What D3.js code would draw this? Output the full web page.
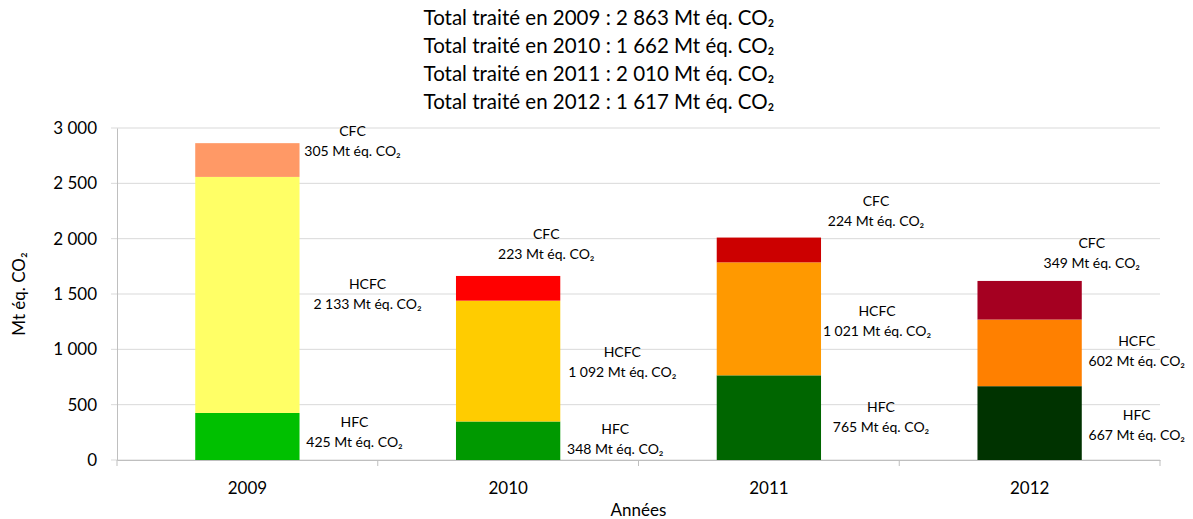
<!DOCTYPE html>
<html>
<head>
<meta charset="utf-8">
<script src="https://cdn.jsdelivr.net/npm/d3@7"></script>
<style>
  body { margin: 0; background: #fff; }
  text { font-family: Lato, "Open Sans", sans-serif; fill: #000; }
</style>
</head>
<body>
<div id="graph"></div>
<script>
const years = ['2009', '2010', '2011', '2012'];
const series = ['HFC', 'HCFC', 'CFC'];
const hfc = [425, 348, 765, 667];
const hcfc = [2133, 1092, 1021, 602];
const cfc = [305, 223, 224, 349];
const totals = ['2 863', '1 662', '2 010', '1 617'];
const yTicks = [0, 500, 1000, 1500, 2000, 2500, 3000];

// colours change with each year
const colors = {
  HFC: ['#00c000', '#009900', '#006600', '#003300'],
  HCFC: ['#ffff66', '#ffcc00', '#ff9900', '#ff8000'],
  CFC: ['#ff9966', '#ff0000', '#cc0000', '#a50021']
};
// label placement (px), tweaked by hand like in the original
const labelDx = {
  HFC: [55, 55, 60, 55],
  HCFC: [68, 62, 56, 55],
  CFC: [53, -14, 55, 10]
};
const labelDy = {
  HFC: [-4, -2, -1, 2],
  HCFC: [-1, 1, 2, -2],
  CFC: [-19, -44, -39, -47]
};

const w = 1193, h = 519;
const m = {left: 117, right: 33, top: 128, bottom: 59};

const rows = years.map((y, i) => ({year: y, HFC: hfc[i], HCFC: hcfc[i], CFC: cfc[i], i: i}));
const stacked = d3.stack().keys(series)(rows);

const x = d3.scaleBand().domain(years).range([m.left, w - m.right]).paddingInner(0.6).paddingOuter(0.3);
const xOuter = d3.scaleBand().domain(years).range([m.left, w - m.right]);
const y = d3.scaleLinear().domain([0, 3000]).range([h - m.bottom, m.top]);

const svg = d3.select('#graph').append('svg').attr('width', w).attr('height', h);

// title
const title = svg.append('g');
totals.forEach((t, i) => {
  title.append('text')
    .attr('x', 599).attr('y', 25 + i * 28)
    .attr('text-anchor', 'middle')
    .style('font-size', '20.5px')
    .text('Total traité en ' + years[i] + ' : ' + t + ' Mt éq. CO₂');
});

// grid
svg.append('g').selectAll('line').data(yTicks).enter().append('line')
  .attr('x1', m.left - 6).attr('x2', w - m.right)
  .attr('y1', d => y(d)).attr('y2', d => y(d))
  .attr('stroke', '#d9d9d9').attr('stroke-width', 1);

// bars
svg.append('g').selectAll('g').data(stacked).enter().append('g')
  .selectAll('rect').data(d => d.map(p => ({key: d.key, p: p}))).enter().append('rect')
  .attr('x', d => x(d.p.data.year))
  .attr('width', x.bandwidth())
  .attr('y', d => y(d.p[1]))
  .attr('height', d => y(d.p[0]) - y(d.p[1]))
  .attr('fill', d => colors[d.key][d.p.data.i]);

// axes
const yAxis = d3.axisLeft(y).tickValues(yTicks).tickSize(0).tickPadding(20)
  .tickFormat(d => d3.format(',')(d).replace(',', ' '));
svg.append('g').attr('transform', 'translate(' + m.left + ',0)').call(yAxis)
  .call(g => g.select('.domain').attr('stroke', '#bfbfbf'))
  .call(g => g.selectAll('text').style('font-size', '17px').attr('fill', '#000'));

const xAxis = d3.axisBottom(xOuter).tickSize(0).tickPadding(22);
const gx = svg.append('g').attr('transform', 'translate(0,' + (h - m.bottom) + ')').call(xAxis);
gx.select('.domain').attr('stroke', '#bfbfbf');
gx.selectAll('text').style('font-size', '17px').attr('fill', '#000');
gx.selectAll('.sep').data(years.concat(['end'])).enter().append('line')
  .attr('x1', (d, i) => m.left + i * xOuter.step()).attr('x2', (d, i) => m.left + i * xOuter.step())
  .attr('y1', 0).attr('y2', 6).attr('stroke', '#bfbfbf');

// axis titles
svg.append('text')
  .attr('x', (m.left + w - m.right) / 2).attr('y', 516)
  .attr('text-anchor', 'middle').style('font-size', '17px').text('Années');
svg.append('text')
  .attr('transform', 'translate(25,' + ((m.top + h - m.bottom) / 2) + ') rotate(-90)')
  .attr('text-anchor', 'middle').style('font-size', '17px').text('Mt éq. CO₂');

// data labels
const fmt = v => d3.format(',')(v).replace(',', ' ');
stacked.forEach(s => {
  s.forEach(p => {
    const i = p.data.i;
    const cx = x(p.data.year) + x.bandwidth() + labelDx[s.key][i];
    const cy = y((p[0] + p[1]) / 2) + labelDy[s.key][i];
    const t = svg.append('text').attr('text-anchor', 'middle').style('font-size', '14px');
    t.append('tspan').attr('x', cx).attr('y', cy - 5).text(s.key);
    t.append('tspan').attr('x', cx).attr('y', cy + 15).text(fmt(p.data[s.key]) + ' Mt éq. CO₂');
  });
});
</script>
</body>
</html>
